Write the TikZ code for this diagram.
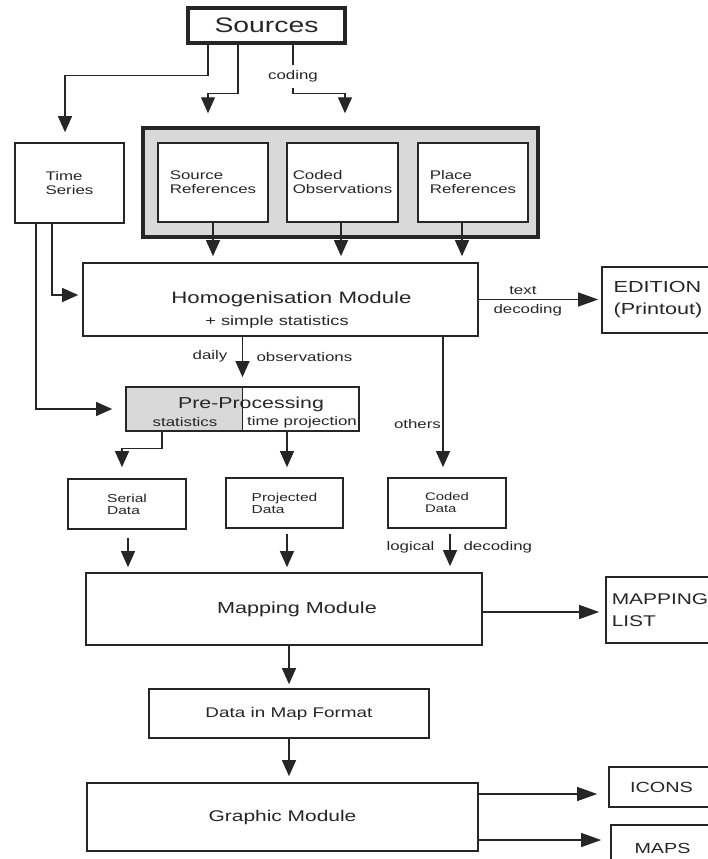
\documentclass[tikz,border=0pt]{standalone}
\usepackage{fontspec}
\setmainfont{Liberation Sans}[FakeStretch=1.35]
\usetikzlibrary{arrows.meta}
\newcommand\fsz[2]{\fontsize{#1}{#2}\selectfont}
\begin{document}
\begin{tikzpicture}[x=1pt,y=-1pt,font=\fsz{12.5}{14},
 box/.style={draw=ink,line width=1.7pt,fill=white,inner sep=0pt,align=left,text=ink},
 heavy/.style={line width=3.4pt},
 arr/.style={draw=ink,line width=1.2pt,-{Triangle[length=16pt,width=14pt]}},
 harr/.style={draw=ink,line width=1.2pt,-{Triangle[length=20pt,width=14pt]}},
 lab/.style={inner sep=1.5pt,text=ink}]
\definecolor{ink}{HTML}{262626}\definecolor{screen}{HTML}{D9D9D9}
\useasboundingbox (0,0) rectangle (708,859);
\node[box,heavy,minimum width=157pt,minimum height=35pt,font=\fsz{21}{24}] (src) at (266.5,25.5) {Sources};
\node[box,minimum width=109pt,minimum height=80pt] (tser) at (69.5,183) {Time\\Series};
\node[box,heavy,fill=screen,minimum width=395pt,minimum height=109pt] (grp) at (340.5,182.5) {};
\node[box,minimum width=110pt,minimum height=79pt] (sref) at (213,182.5) {Source\\References};
\node[box,minimum width=111pt,minimum height=79pt] (cobs) at (342.5,182.5) {Coded\\Observations};
\node[box,minimum width=110pt,minimum height=79pt] (pref) at (473,182.5) {Place\\References};
\node[box,minimum width=395pt,minimum height=73pt,font=\fsz{16.5}{19}] (homog) at (280.5,299.5) {\hspace*{22pt}Homogenisation Module};
\node[lab,font=\fsz{13.5}{16}] (simple) at (277,322) {+ simple statistics};
\node[box,minimum width=112pt,minimum height=66pt,font=\fsz{16}{22}] (edit) at (658,300) {EDITION\\(Printout)};
\fill[screen] (126,387) rectangle (243,431);
\node[box,fill=none,minimum width=233pt,minimum height=44pt] (prep) at (242.5,409) {};
\draw[ink,line width=1.6pt] (prep.north) -- (prep.south);
\node[lab,font=\fsz{15.8}{18}] (preptitle) at (251,404) {Pre-Processing};
\node[lab] (stat) at (185,422) {statistics};\node[lab] (tproj) at (302,422) {time projection};
\node[box,minimum width=118pt,minimum height=50pt,font=\fsz{11.5}{12}] (serial) at (127,504) {Serial\\Data};
\node[box,minimum width=117pt,minimum height=50pt,font=\fsz{11.5}{12}] (proj) at (284.5,503) {Projected\\Data};
\node[box,minimum width=118pt,minimum height=50pt,font=\fsz{11}{12}] (coded) at (447,503) {Coded\\Data};
\node[box,minimum width=396pt,minimum height=72pt,font=\fsz{16}{19}] (map) at (284,609) {\hspace*{26pt}Mapping Module};
\node[box,minimum width=108pt,minimum height=66pt,font=\fsz{15.5}{22}] (mlist) at (660,610) {MAPPING\\LIST};
\node[box,minimum width=280pt,minimum height=49pt,font=\fsz{14}{16}] (dmf) at (289,713.5) {Data in Map Format};
\node[box,minimum width=391pt,minimum height=68pt,font=\fsz{15.5}{18}] (graph) at (282.5,817) {Graphic Module};
\node[box,minimum width=105pt,minimum height=40pt,font=\fsz{14.7}{17}] (icons) at (661.5,787) {ICONS};
\node[box,minimum width=103pt,minimum height=46pt,font=\fsz{14.6}{17}] (maps) at (662.5,848) {MAPS};
\draw[arr,shorten >=10pt] ([xshift=-58.5pt]src.south) -- ++(0,31) -| ([xshift=-4.5pt]tser.north);
\draw[arr,shorten >=13pt] ([xshift=-28.5pt]src.south) -- ++(0,49) -| ([xshift=-132.5pt]grp.north);
\draw[arr,shorten >=13pt] ([xshift=26.5pt]src.south) -- ++(0,49) node[lab,pos=.65,fill=white,inner ysep=5.5pt]{coding} -| ([xshift=4.5pt]grp.north);
\foreach \n/\dx in {sref/0,cobs/-1.5,pref/-11}{\draw[arr,shorten >=6pt] ([xshift=\dx pt]\n.south) -- ([xshift=\dx pt]\n.south |- homog.north);}
\draw[arr,shorten >=4pt] ([xshift=-17.5pt]tser.south) |- ([yshift=4.5pt]homog.west);
\draw[arr,shorten >=13pt] ([xshift=-33.5pt]tser.south) |- (prep.west);
\draw[arr,shorten >=9pt] (prep.north |- homog.south) -- (prep.north) node[lab,pos=.4,left=13pt]{daily} node[lab,pos=.4,right=12pt]{observations};
\draw[arr,shorten >=10pt] ([xshift=-4pt]coded.north |- homog.south) -- ([xshift=-4pt]coded.north) node[lab,pos=.62,left=0pt]{others};
\draw[harr,shorten >=3pt] (homog.east) -- (homog.east -| edit.west) node[lab,pos=.36,above=3pt]{text} node[lab,pos=.40,below=3pt]{decoding};
\draw[arr,shorten >=11pt] ([xshift=-80.5pt]prep.south) -- ++(0,17) -| ([xshift=-5pt]serial.north);
\draw[arr,shorten >=10pt] ([xshift=44.5pt]prep.south) -- ([xshift=44.5pt]prep.south |- proj.north);
\foreach \n/\dx/\s in {serial/1/8,proj/2.5/5}{\draw[arr,shorten <=\s pt,shorten >=5pt] ([xshift=\dx pt]\n.south) -- ([xshift=\dx pt]\n.south |- map.north);}
\draw[arr,shorten <=5pt,shorten >=6pt] ([xshift=3pt]coded.south) -- ([xshift=3pt]coded.south |- map.north) node[lab,pos=.42,left=13.5pt]{logical} node[lab,pos=.42,right=11.5pt]{decoding};
\draw[harr,shorten >=6pt] ([yshift=-3pt]map.east) -- ([yshift=-3pt]map.east -| mlist.west);
\draw[arr,shorten >=4pt] (dmf.north |- map.south) -- (dmf.north);
\draw[arr,shorten >=6pt] (dmf.south) -- (dmf.south |- graph.north);
\draw[harr,shorten >=11pt] ([yshift=-7pt]graph.east |- icons.west) -- ([yshift=-7pt]icons.west);
\draw[harr,shorten >=9pt] ([yshift=8pt]graph.east |- maps.west) -- ([yshift=8pt]maps.west);
\end{tikzpicture}
\end{document}
